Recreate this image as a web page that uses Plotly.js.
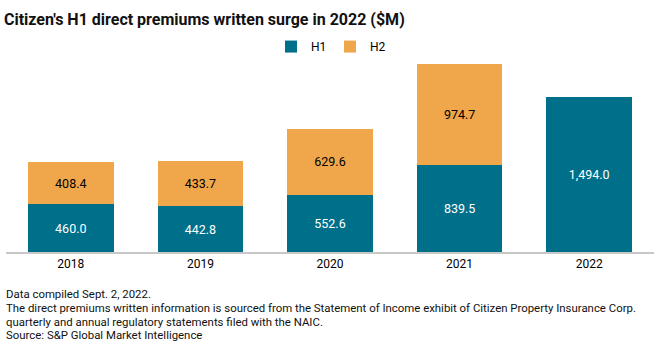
<!DOCTYPE html>
<html><head><meta charset="utf-8">
<script src="https://cdn.plot.ly/plotly-3.0.1.min.js"></script>
<style>body{margin:0;padding:0;background:#fff}#chart{width:660px;height:351px}</style>
</head><body><div id="chart"></div>
<script>
const years = ["2018","2019","2020","2021","2022"];
const h1 = [460.0, 442.8, 552.6, 839.5, 1494.0];
const h2 = [408.4, 433.7, 629.6, 974.7, null];
const fmt = v => v == null ? "" : v.toLocaleString("en-US",{minimumFractionDigits:1,maximumFractionDigits:1});
const FONT = "Roboto, Arial, sans-serif";
const data = [
 {type:"bar", name:"H1", x:years, y:h1, text:h1.map(fmt), textposition:"inside", insidetextanchor:"middle",
  textfont:{color:"#ffffff", size:12.5, family:FONT}, marker:{color:"#006f8a"}, hoverinfo:"none"},
 {type:"bar", name:"H2", x:years, y:h2, text:h2.map(fmt), textposition:"inside", insidetextanchor:"middle",
  textfont:{color:"#000000", size:12.5, family:FONT}, marker:{color:"#f0a74b"}, hoverinfo:"none"}
];
const notes = ["Data compiled Sept. 2, 2022.",
 "The direct premiums written information is sourced from the Statement of Income exhibit of Citizen Property Insurance Corp.",
 "quarterly and annual regulatory statements filed with the NAIC.",
 "Source: S&P Global Market Intelligence"];
const layout = {
 width:660, height:351, margin:{l:6, r:6, t:60, b:99},
 paper_bgcolor:"#fff", plot_bgcolor:"#fff",
 barmode:"stack", bargap:0.34,
 font:{family:FONT, color:"#000", size:12},
 title:{text:"<b>Citizen's H1 direct premiums written surge in 2022 ($M)</b>", x:0.006, xanchor:"left", y:0.945, yanchor:"middle",
  font:{size:16, family:FONT, color:"#111"}},
 showlegend:true,
 legend:{orientation:"h", x:0.5, xanchor:"center", y:1.07, yanchor:"middle", font:{size:12, family:FONT},
  itemwidth:30, entrywidth:14, traceorder:"normal"},
 xaxis:{type:"category", showline:true, linecolor:"#c8c8c8", linewidth:2, ticks:"", tickfont:{size:12, family:FONT}, fixedrange:true},
 yaxis:{range:[0,1850], visible:false, showgrid:false, zeroline:false, fixedrange:true},
 annotations: notes.map((t,i)=>({text:t, xref:"paper", yref:"paper", x:-0.003, xanchor:"left", y:0, yanchor:"middle",
   yshift:-42 - i*13.8, showarrow:false, font:{size:11.4, family:FONT, color:"#111"}}))
};
Plotly.newPlot("chart", data, layout, {displayModeBar:false, staticPlot:true});
</script></body></html>
